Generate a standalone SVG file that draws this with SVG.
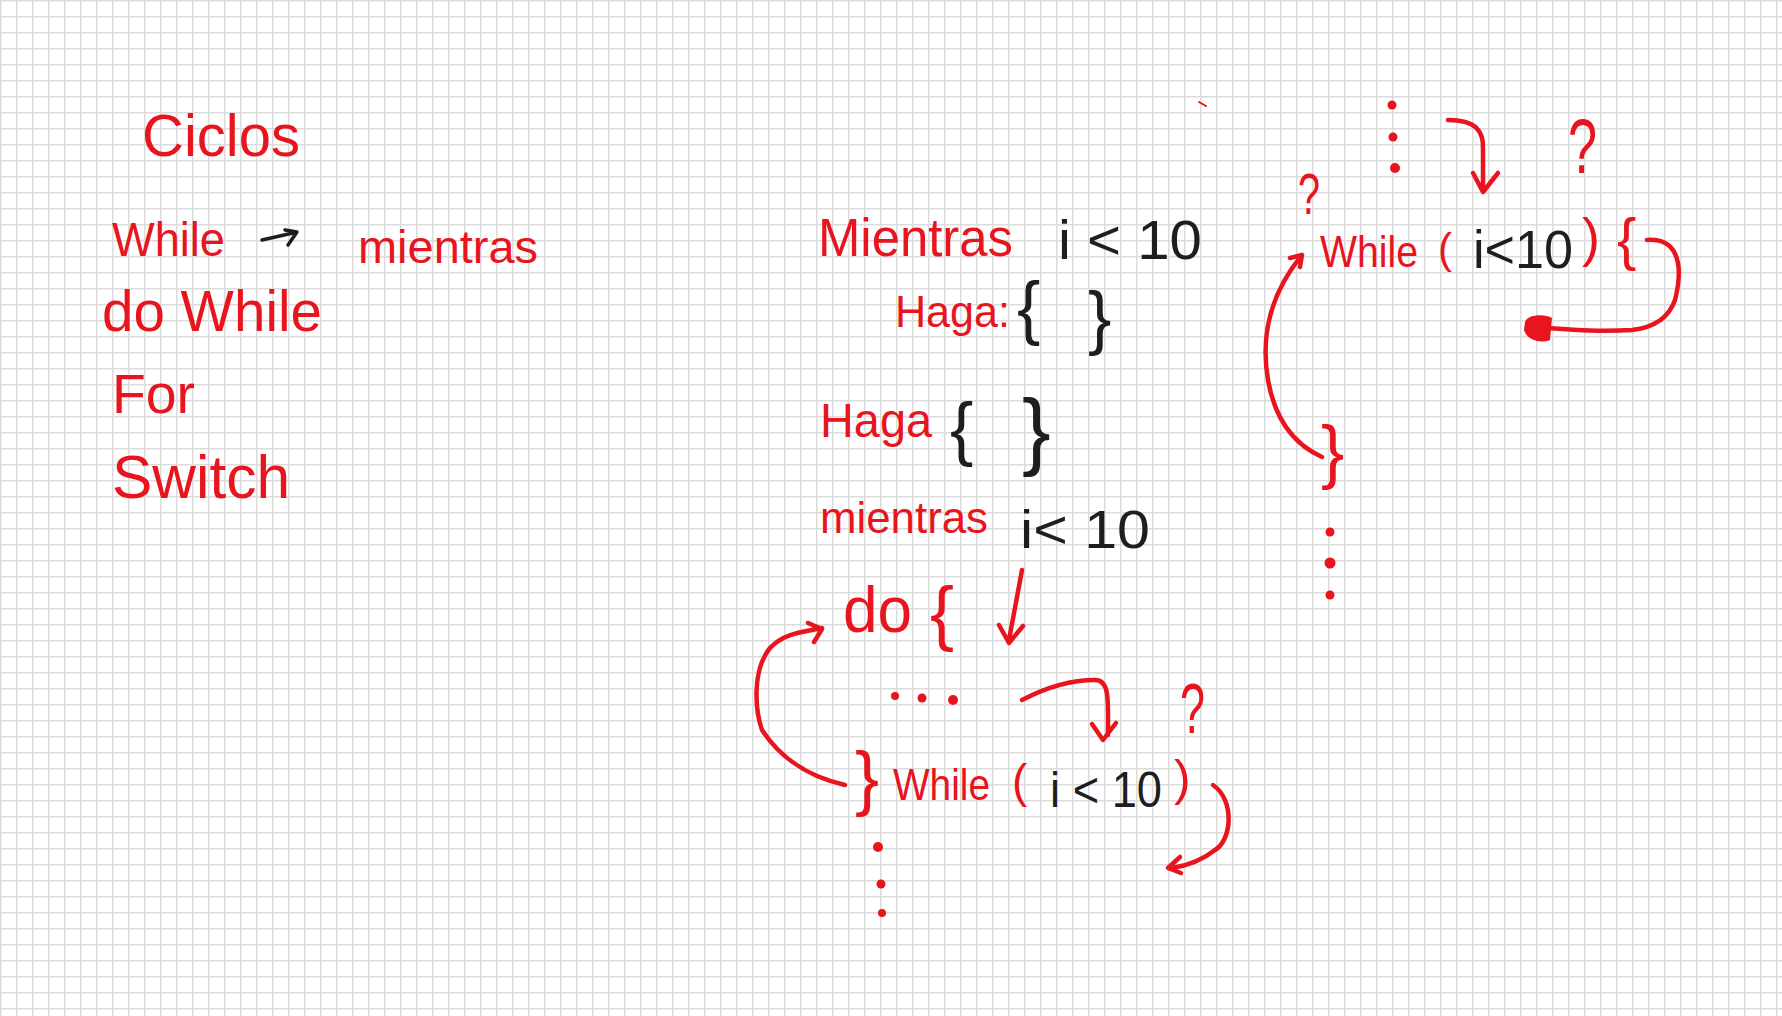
<svg xmlns="http://www.w3.org/2000/svg" width="1782" height="1016" viewBox="0 0 1782 1016">
<defs>
<pattern id="grid" width="16" height="16" patternUnits="userSpaceOnUse">
<rect x="0" y="0" width="16" height="16" fill="#ffffff"/>
<rect x="0" y="0" width="16" height="1.5" fill="#dcdcdc"/>
<rect x="0" y="0" width="1.5" height="16" fill="#dcdcdc"/>
</pattern>
</defs>
<style>
.r{fill:#e8141e;font-family:"Liberation Sans",Arial,sans-serif;}
.k{fill:#1e1e1e;font-family:"Liberation Sans",Arial,sans-serif;}
.ln{fill:none;stroke:#e8141e;stroke-width:4.5;stroke-linecap:round;stroke-linejoin:round;}
.lk{fill:none;stroke:#1e1e1e;stroke-width:3.5;stroke-linecap:round;stroke-linejoin:round;}
.dot{fill:#e8141e;}
</style>
<rect x="0" y="0" width="1782" height="1016" fill="url(#grid)"/>

<g id="list">
<text class="r" x="142" y="156" font-size="60" textLength="158" lengthAdjust="spacingAndGlyphs">Ciclos</text>
<text class="r" x="112" y="256" font-size="48" textLength="113" lengthAdjust="spacingAndGlyphs">While</text>
<text class="r" x="358" y="263" font-size="46" textLength="180" lengthAdjust="spacingAndGlyphs">mientras</text>
<text class="r" x="102" y="331" font-size="58" textLength="220" lengthAdjust="spacingAndGlyphs">do While</text>
<text class="r" x="112" y="413" font-size="56" textLength="83" lengthAdjust="spacingAndGlyphs">For</text>
<text class="r" x="112" y="498" font-size="62" textLength="178" lengthAdjust="spacingAndGlyphs">Switch</text>
</g>

<g id="pseudo-while">
<text class="r" x="818" y="256" font-size="54" textLength="195" lengthAdjust="spacingAndGlyphs">Mientras</text>
<text class="k" x="1058" y="259" font-size="56" textLength="144" lengthAdjust="spacingAndGlyphs">i &lt; 10</text>
<text class="r" x="895" y="327" font-size="45" textLength="115" lengthAdjust="spacingAndGlyphs">Haga:</text>
<text class="k" x="1017" y="331" font-size="70">{</text>
<text class="k" x="1088" y="341" font-size="70">}</text>
</g>

<g id="pseudo-dowhile">
<text class="r" x="820" y="437" font-size="48" textLength="112" lengthAdjust="spacingAndGlyphs">Haga</text>
<text class="k" x="950" y="452" font-size="70">{</text>
<text class="k" x="1022" y="459" font-size="86">}</text>
<text class="r" x="820" y="533" font-size="44" textLength="168" lengthAdjust="spacingAndGlyphs">mientras</text>
<text class="k" x="1020" y="548" font-size="54" textLength="130" lengthAdjust="spacingAndGlyphs">i&lt; 10</text>
</g>

<g id="dowhile-code">
<text class="r" x="843" y="632" font-size="64" textLength="69" lengthAdjust="spacingAndGlyphs">do</text>
<text class="r" x="930" y="637" font-size="72">{</text>
<circle class="dot" cx="895" cy="696" r="4"/>
<circle class="dot" cx="922" cy="698" r="4.5"/>
<circle class="dot" cx="953" cy="700" r="5"/>
<text class="r" x="855" y="802" font-size="72">}</text>
<text class="r" x="893" y="800" font-size="45" textLength="97" lengthAdjust="spacingAndGlyphs">While</text>
<text class="r" x="1012" y="797" font-size="46">(</text>
<text class="k" x="1050" y="807" font-size="50" textLength="112" lengthAdjust="spacingAndGlyphs">i &lt; 10</text>
<text class="r" x="1174" y="795" font-size="50">)</text>
<text class="r" x="1180" y="733" font-size="70" textLength="25" lengthAdjust="spacingAndGlyphs">?</text>
<circle class="dot" cx="878" cy="847" r="5"/>
<circle class="dot" cx="881" cy="884" r="4.5"/>
<circle class="dot" cx="882" cy="913" r="4"/>
</g>

<g id="while-code">
<circle class="dot" cx="1392" cy="105" r="4.5"/>
<circle class="dot" cx="1393" cy="137" r="4.5"/>
<circle class="dot" cx="1395" cy="168" r="5"/>
<text class="r" x="1298" y="214" font-size="58" textLength="22" lengthAdjust="spacingAndGlyphs">?</text>
<text class="r" x="1568" y="173" font-size="78" textLength="29" lengthAdjust="spacingAndGlyphs">?</text>
<text class="r" x="1320" y="267" font-size="44" textLength="98" lengthAdjust="spacingAndGlyphs">While</text>
<text class="r" x="1438" y="263" font-size="42">(</text>
<text class="k" x="1473" y="268" font-size="53" textLength="100" lengthAdjust="spacingAndGlyphs">i&lt;10</text>
<text class="r" x="1582" y="256" font-size="54">)</text>
<text class="r" x="1617" y="259" font-size="58">{</text>
<text class="r" x="1321" y="475" font-size="70">}</text>
<circle class="dot" cx="1330" cy="532" r="4.5"/>
<circle class="dot" cx="1330" cy="563" r="5.5"/>
<circle class="dot" cx="1330" cy="595" r="4.5"/>
</g>

<g id="connectors">
<path class="lk" d="M262,240 L293,233 M285,230 L297,232 L288,245"/>
<path class="ln" d="M1022,570 L1009,640 M999,625 L1009,643 L1023,626"/>
<path class="ln" d="M1022,700 C1045,688 1070,680 1095,680 C1110,680 1108,700 1108,735 M1092,724 L1103,740 L1116,723"/>
<path class="ln" d="M845,785 C800,775 775,750 762,730 C755,710 752,670 770,648 C785,632 805,632 822,628 M808,623 L822,629 L814,642"/>
<path class="ln" d="M1213,785 C1235,800 1232,840 1215,850 C1200,862 1185,866 1172,868 M1180,857 L1168,868 L1181,873"/>
<path class="ln" d="M1448,120 C1475,120 1484,130 1483,150 L1483,190 M1473,173 L1483,192 L1498,173"/>
<path class="ln" d="M1647,240 C1675,238 1685,260 1675,300 C1668,320 1650,328 1632,330 C1600,332 1575,330 1547,328"/>
<path class="dot" d="M1525,322 C1528,314 1545,314 1552,318 L1550,340 C1540,344 1527,340 1524,330 Z"/>
<path class="ln" d="M1322,457 C1295,445 1275,420 1268,380 C1262,345 1265,300 1302,255 M1290,258 L1302,255 L1300,267"/>
<path class="ln" style="stroke-width:2" d="M1199,102 L1206,106"/>
</g>
</svg>
